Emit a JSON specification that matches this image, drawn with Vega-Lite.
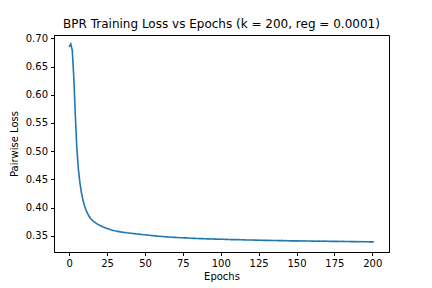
{
"$schema": "https://vega.github.io/schema/vega-lite/v6.json",
"width": 335, "height": 217,
"autosize": "none",
"padding": {"left": 54, "top": 35, "right": 43, "bottom": 36},
"background": "white",
"config": {
  "font": "DejaVu Sans",
  "view": {"stroke": "black", "strokeWidth": 1},
  "axis": {"grid": false, "domainColor": "black", "tickColor": "black", "tickSize": 3.5, "labelFontSize": 10, "labelColor": "black", "titleFontSize": 10, "titleFontWeight": "normal", "titleColor": "black", "labelPadding": 3, "labelFont": "DejaVu Sans", "titleFont": "DejaVu Sans"}
},
"title": {"text": "BPR Training Loss vs Epochs (k = 200, reg = 0.0001)", "fontSize": 12, "fontWeight": "normal", "font": "DejaVu Sans", "color": "black", "offset": 2, "anchor": "middle"},
"data": {"values": [
{"e":0,"l":0.685},{"e":1,"l":0.690},{"e":2,"l":0.679},{"e":3,"l":0.632},{"e":4,"l":0.565},{"e":5,"l":0.506},{"e":6,"l":0.469},{"e":7,"l":0.445},{"e":8,"l":0.427},{"e":9,"l":0.414},
{"e":10,"l":0.404},{"e":11,"l":0.396},{"e":12,"l":0.390},{"e":13,"l":0.385},{"e":14,"l":0.381},{"e":15,"l":0.378},{"e":16,"l":0.3755},{"e":17,"l":0.3735},{"e":18,"l":0.3717},{"e":19,"l":0.3700},
{"e":20,"l":0.3685},{"e":21,"l":0.3672},{"e":22,"l":0.3660},{"e":23,"l":0.3648},{"e":24,"l":0.3638},{"e":25,"l":0.3628},{"e":26,"l":0.3620},{"e":27,"l":0.3610},{"e":28,"l":0.3603},{"e":29,"l":0.3594},
{"e":30,"l":0.3587},{"e":31,"l":0.3583},{"e":32,"l":0.3576},{"e":33,"l":0.3572},{"e":34,"l":0.3566},{"e":35,"l":0.3563},{"e":36,"l":0.3558},{"e":37,"l":0.3556},{"e":38,"l":0.3551},{"e":39,"l":0.3549},
{"e":40,"l":0.3545},{"e":41,"l":0.3543},{"e":42,"l":0.3538},{"e":43,"l":0.3537},{"e":44,"l":0.3532},{"e":45,"l":0.3530},{"e":46,"l":0.3528},{"e":47,"l":0.3523},{"e":48,"l":0.3522},{"e":49,"l":0.3517},
{"e":50,"l":0.3516},{"e":51,"l":0.3513},{"e":52,"l":0.3510},{"e":53,"l":0.3508},{"e":54,"l":0.3503},{"e":55,"l":0.3502},{"e":56,"l":0.3499},{"e":57,"l":0.3497},{"e":58,"l":0.3493},{"e":59,"l":0.3491},
{"e":60,"l":0.3489},{"e":61,"l":0.3486},{"e":62,"l":0.3485},{"e":63,"l":0.3481},{"e":64,"l":0.3480},{"e":65,"l":0.3478},{"e":66,"l":0.3477},{"e":67,"l":0.3474},{"e":68,"l":0.3473},{"e":69,"l":0.3470},
{"e":70,"l":0.3471},{"e":71,"l":0.3468},{"e":72,"l":0.3467},{"e":73,"l":0.3465},{"e":74,"l":0.3464},{"e":75,"l":0.3463},{"e":76,"l":0.3461},{"e":77,"l":0.3461},{"e":78,"l":0.3458},{"e":79,"l":0.3458},
{"e":80,"l":0.3456},{"e":81,"l":0.3456},{"e":82,"l":0.3453},{"e":83,"l":0.3453},{"e":84,"l":0.3451},{"e":85,"l":0.3451},{"e":86,"l":0.3449},{"e":87,"l":0.3448},{"e":88,"l":0.3448},{"e":89,"l":0.3446},
{"e":90,"l":0.3446},{"e":91,"l":0.3444},{"e":92,"l":0.3444},{"e":93,"l":0.3442},{"e":94,"l":0.3443},{"e":95,"l":0.3441},{"e":96,"l":0.3440},{"e":97,"l":0.3440},{"e":98,"l":0.3438},{"e":99,"l":0.3439},
{"e":100,"l":0.3437},{"e":101,"l":0.3436},{"e":102,"l":0.3437},{"e":103,"l":0.3434},{"e":104,"l":0.3435},{"e":105,"l":0.3433},{"e":106,"l":0.3433},{"e":107,"l":0.3431},{"e":108,"l":0.3432},{"e":109,"l":0.3430},
{"e":110,"l":0.3430},{"e":111,"l":0.3429},{"e":112,"l":0.3430},{"e":113,"l":0.3427},{"e":114,"l":0.3428},{"e":115,"l":0.3426},{"e":116,"l":0.3427},{"e":117,"l":0.3425},{"e":118,"l":0.3424},{"e":119,"l":0.3425},
{"e":120,"l":0.3423},{"e":121,"l":0.3423},{"e":122,"l":0.3421},{"e":123,"l":0.3422},{"e":124,"l":0.3420},{"e":125,"l":0.3421},{"e":126,"l":0.3419},{"e":127,"l":0.3420},{"e":128,"l":0.3418},{"e":129,"l":0.3419},
{"e":130,"l":0.3417},{"e":131,"l":0.3418},{"e":132,"l":0.3416},{"e":133,"l":0.3417},{"e":134,"l":0.3415},{"e":135,"l":0.3416},{"e":136,"l":0.3414},{"e":137,"l":0.3415},{"e":138,"l":0.3413},{"e":139,"l":0.3414},
{"e":140,"l":0.3412},{"e":141,"l":0.3413},{"e":142,"l":0.3411},{"e":143,"l":0.3412},{"e":144,"l":0.3410},{"e":145,"l":0.3411},{"e":146,"l":0.3409},{"e":147,"l":0.3411},{"e":148,"l":0.3409},{"e":149,"l":0.3410},
{"e":150,"l":0.3408},{"e":151,"l":0.3409},{"e":152,"l":0.3407},{"e":153,"l":0.3408},{"e":154,"l":0.3406},{"e":155,"l":0.3408},{"e":156,"l":0.3406},{"e":157,"l":0.3407},{"e":158,"l":0.3405},{"e":159,"l":0.3406},
{"e":160,"l":0.3404},{"e":161,"l":0.3405},{"e":162,"l":0.3403},{"e":163,"l":0.3405},{"e":164,"l":0.3403},{"e":165,"l":0.3404},{"e":166,"l":0.3402},{"e":167,"l":0.3403},{"e":168,"l":0.3401},{"e":169,"l":0.3403},
{"e":170,"l":0.3401},{"e":171,"l":0.3402},{"e":172,"l":0.3400},{"e":173,"l":0.3401},{"e":174,"l":0.3399},{"e":175,"l":0.3401},{"e":176,"l":0.3399},{"e":177,"l":0.3400},{"e":178,"l":0.3398},{"e":179,"l":0.3399},
{"e":180,"l":0.3397},{"e":181,"l":0.3399},{"e":182,"l":0.3397},{"e":183,"l":0.3398},{"e":184,"l":0.3396},{"e":185,"l":0.3397},{"e":186,"l":0.3395},{"e":187,"l":0.3397},{"e":188,"l":0.3395},{"e":189,"l":0.3396},
{"e":190,"l":0.3394},{"e":191,"l":0.3395},{"e":192,"l":0.3393},{"e":193,"l":0.3395},{"e":194,"l":0.3393},{"e":195,"l":0.3394},{"e":196,"l":0.3392},{"e":197,"l":0.3393},{"e":198,"l":0.3391},{"e":199,"l":0.3392},
{"e":200,"l":0.3390},{"e":201,"l":0.3391}
]},
"mark": {"type": "line", "color": "#1f77b4", "strokeWidth": 1.6},
"encoding": {
  "x": {"field": "e", "type": "quantitative", "scale": {"domain": [-10.05, 211.05], "nice": false, "zero": false},
        "axis": {"values": [0,25,50,75,100,125,150,175,200], "title": "Epochs", "titlePadding": 3}},
  "y": {"field": "l", "type": "quantitative", "scale": {"domain": [0.3211, 0.7059], "nice": false, "zero": false},
        "axis": {"values": [0.35,0.40,0.45,0.50,0.55,0.60,0.65,0.70], "format": ".2f", "title": "Pairwise Loss", "titlePadding": 6}}
}
}
